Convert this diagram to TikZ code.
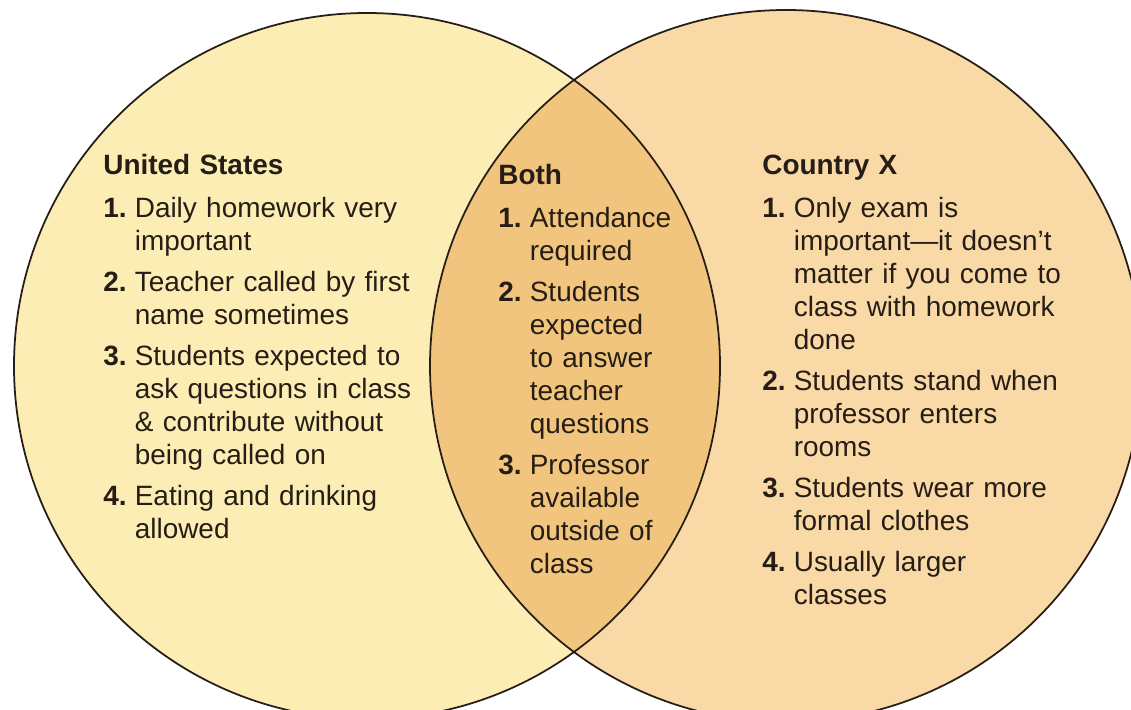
\documentclass[tikz,border=0pt]{standalone}
\usepackage{fontspec}
\setmainfont{Liberation Sans}
\usetikzlibrary{positioning}
\definecolor{usfill}{RGB}{252,237,180}
\definecolor{cxfill}{RGB}{249,217,166}
\definecolor{bothfill}{RGB}{242,197,126}
\definecolor{ink}{RGB}{38,30,22}
\setlength{\parskip}{0pt}
\newcommand{\vdhead}[1]{\noindent\textbf{#1}\par\vspace{0.18cm}}
\newcommand{\vditem}[2]{\par\hangindent=0.63cm\hangafter=1\noindent\makebox[0.63cm][l]{\textbf{#1.}}#2\par\vspace{0.16cm}}
\tikzset{
  col/.style={anchor=base west, inner sep=0pt, text width=#1, text=ink, font=\fontsize{15.9}{18.8}\selectfont},
  ring/.style={draw=ink, line width=1pt}
}

\begin{document}
\begin{tikzpicture}[x=0.02cm, y=-0.02cm]
				\useasboundingbox (0,0) rectangle (1131,709);
				\fill[white] (0,0) rectangle (1131,709);
				\clip (0,0) rectangle (1131,709);
				\fill[usfill] (367,366) circle[radius=353];
				\fill[cxfill] (786,366) circle[radius=356];
				\begin{scope}
					\clip (367,366) circle[radius=353];
					\fill[bothfill] (786,366) circle[radius=356];
				\end{scope}
				\draw[ring] (367,366) circle[radius=353];
				\draw[ring] (786,366) circle[radius=356];
				\node[col=6.8cm] (usa) at (103,175) {\vdhead{United States}
					\vditem{1}{Daily homework very\newline important}
					\vditem{2}{Teacher called by first\newline name sometimes}
					\vditem{3}{Students expected to\newline ask questions in class\newline \& contribute without\newline being called on}
					\vditem{4}{Eating and drinking\newline allowed}};
				\node[col=4.2cm] (both) at (498,185) {\vdhead{Both}
					\vditem{1}{Attendance\newline required}
					\vditem{2}{Students\newline expected\newline to answer\newline teacher\newline questions}
					\vditem{3}{Professor\newline available\newline outside of\newline class}};
				\node[col=6.8cm] (cx) at (762,175) {\vdhead{Country X}
					\vditem{1}{Only exam is\newline important—it doesn't\newline matter if you come to\newline class with homework\newline done}
					\vditem{2}{Students stand when\newline professor enters\newline rooms}
					\vditem{3}{Students wear more\newline formal clothes}
					\vditem{4}{Usually larger\newline classes}};
			\end{tikzpicture}
\end{document}
